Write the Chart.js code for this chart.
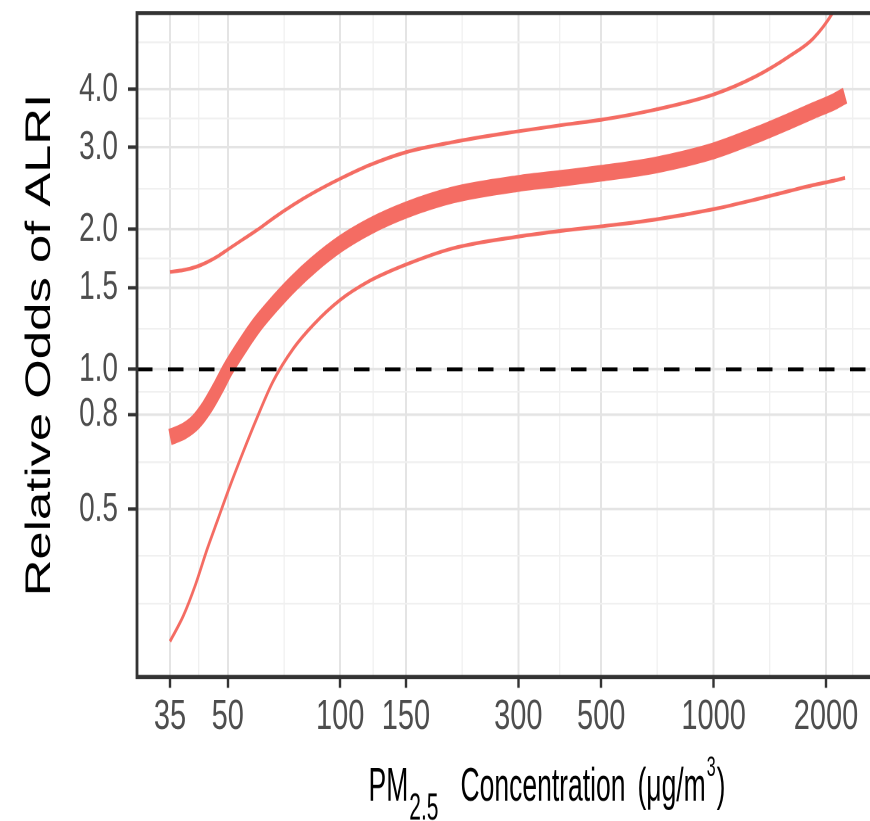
<!DOCTYPE html>
<html>
<head>
<meta charset="utf-8">
<title>Relative Odds of ALRI by PM2.5 concentration</title>
<script src="https://cdn.jsdelivr.net/npm/chart.js@4.4.1/dist/chart.umd.min.js"></script>
<style>
  html, body { margin: 0; padding: 0; background: #fff; overflow: hidden; }
  #frame { position: relative; width: 870px; height: 821px; overflow: hidden; }
  /* the reference picture is stretched vertically: draw 566px high, stretch to 821px */
  #stretch { position: absolute; left: 0; top: 0; width: 980px; height: 566px;
             transform: scaleY(1.4505); transform-origin: 0 0; }
</style>
</head>
<body>
<div id="frame"><div id="stretch"><canvas id="chart" width="980" height="566"></canvas></div></div>
<script>
// PM2.5 concentration (ug/m3) at which the curves were read
const pmConcentration = [35, 38, 41, 44, 47, 50, 55, 60, 66, 75, 85, 100, 120, 150, 200, 300, 400, 500, 700, 1000, 1300, 1600, 1850, 2100, 2250];
// relative odds of ALRI: upper CI, estimate, lower CI
const oddsUpper = [1.62, 1.635, 1.66, 1.70, 1.75, 1.81, 1.905, 1.995, 2.11, 2.26, 2.40, 2.57, 2.75, 2.93, 3.08, 3.25, 3.36, 3.44, 3.62, 3.90, 4.27, 4.72, 5.15, 5.9, 6.6];
const oddsMean = [0.715, 0.735, 0.77, 0.83, 0.91, 1.00, 1.13, 1.25, 1.37, 1.53, 1.68, 1.86, 2.03, 2.20, 2.37, 2.51, 2.58, 2.64, 2.75, 2.95, 3.19, 3.42, 3.60, 3.76, 3.88];
const oddsLower = [0.26, 0.295, 0.345, 0.41, 0.475, 0.545, 0.665, 0.79, 0.94, 1.11, 1.25, 1.41, 1.55, 1.68, 1.82, 1.93, 1.99, 2.03, 2.10, 2.21, 2.32, 2.42, 2.49, 2.545, 2.58];

// axis breaks (major ones carry a label, minor ones only a grid line)
const xMajorTicks = [35, 50, 100, 150, 300, 500, 1000, 2000];
const xMinorTicks = [41.8, 70.7, 122.5, 212.1, 387.3, 707.1, 1414.2, 2360];
const yMajorTicks = [0.5, 0.8, 1.0, 1.5, 2.0, 3.0, 4.0];
const yMinorTicks = [0.314, 0.397, 0.632, 0.894, 1.225, 1.732, 2.449, 3.464, 5.06];
const refOdds = 1.0;

// axis limits
const xMin = 28.56, xMax = 4487;
const yMin = 0.218, yMax = 5.836;

const red = '#F46C63';
const fam = '"Liberation Sans", Arial, sans-serif';

const toPoints = (ys) => pmConcentration.map((x, i) => ({ x: x, y: ys[i] }));
const tickList = (major, minor) => major.concat(minor).sort((a, b) => a - b).map((v) => ({ value: v }));
const isMajor = (c, list) => !!(c.tick && list.includes(c.tick.value));

function gridFor(major, wMajor, wMinor, tickLength) {
  return {
    color: (c) => isMajor(c, major) ? '#e4e4e4' : '#f0f0f0',
    lineWidth: (c) => isMajor(c, major) ? wMajor : wMinor,
    tickColor: (c) => isMajor(c, major) ? '#333333' : 'rgba(0,0,0,0)',
    tickWidth: 2.4,
    tickLength: tickLength
  };
}

// panel frame on top of the lines
const panelFrame = {
  id: 'panelFrame',
  afterDatasetsDraw(chart) {
    const { ctx, chartArea: a } = chart;
    ctx.save();
    ctx.strokeStyle = '#333333';
    ctx.lineWidth = 2.8;
    ctx.strokeRect(a.left, a.top, a.right - a.left, a.bottom - a.top);
    ctx.restore();
  }
};

// x title with subscript and superscript
const xAxisTitle = {
  id: 'xAxisTitle',
  afterDraw(chart) {
    const { ctx, chartArea } = chart;
    const k = 1.23;
    const baseline = chart.height - 13.8;
    // text, font size, baseline shift, space after
    const pieces = [
      ['PM', 26.5, 0, 1],
      ['2.5', 21, 13, 22],
      ['Concentration', 26.5, 0, 12],
      ['(\u03bcg/m', 26.5, 0, 1],
      ['3', 16, -17.4, 1],
      [')', 26.5, 0, 0]
    ];
    ctx.save();
    ctx.fillStyle = '#000000';
    ctx.textAlign = 'left';
    ctx.textBaseline = 'alphabetic';
    let total = 0;
    const widths = pieces.map(([t, size, , gap]) => {
      ctx.font = size + 'px ' + fam;
      const w = ctx.measureText(t).width;
      total += w + gap;
      return w;
    });
    let x = (chartArea.left + chartArea.right) / 2 - total / 2;
    pieces.forEach(([t, size, shift, gap], i) => {
      ctx.font = size + 'px ' + fam;
      ctx.save();
      ctx.translate(x, baseline + shift);
      ctx.scale(1, k);
      ctx.fillText(t, 0, 0);
      ctx.restore();
      x += widths[i] + gap;
    });
    ctx.restore();
  }
};

const ctx = document.getElementById('chart').getContext('2d');
new Chart(ctx, {
  type: 'line',
  data: {
    datasets: [
      {
        label: 'Odds = 1',
        data: [{ x: xMin, y: refOdds }, { x: xMax, y: refOdds }],
        borderColor: '#000000',
        borderWidth: 2.8,
        borderDash: [15.5, 15.5],
        pointRadius: 0,
        order: 0
      },
      {
        label: 'Upper bound',
        data: toPoints(oddsUpper),
        borderColor: red,
        borderWidth: 2.6,
        pointRadius: 0,
        cubicInterpolationMode: 'monotone',
        order: 1
      },
      {
        label: 'Relative odds',
        data: toPoints(oddsMean),
        borderColor: red,
        borderWidth: 11.5,
        pointRadius: 0,
        cubicInterpolationMode: 'monotone',
        order: 1
      },
      {
        label: 'Lower bound',
        data: toPoints(oddsLower),
        borderColor: red,
        borderWidth: 2.6,
        pointRadius: 0,
        cubicInterpolationMode: 'monotone',
        order: 1
      }
    ]
  },
  options: {
    responsive: false,
    animation: false,
    devicePixelRatio: 2,
    events: [],
    layout: { padding: { top: 9, right: 23, bottom: 0, left: 0 } },
    scales: {
      x: {
        type: 'logarithmic',
        min: xMin,
        max: xMax,
        bounds: 'data',
        afterBuildTicks: (s) => { s.ticks = tickList(xMajorTicks, xMinorTicks); },
        afterFit: (s) => { s.height = 99.3; s.paddingLeft = 0; s.paddingRight = 0; },
        grid: gridFor(xMajorTicks, 2, 1.3, 7.5),
        border: { display: false },
        ticks: {
          autoSkip: false,
          maxRotation: 0,
          minRotation: 0,
          padding: 3,
          color: '#4d4d4d',
          font: { family: fam, size: 29 },
          callback: (v) => xMajorTicks.includes(v) ? String(v) : ''
        }
      },
      y: {
        type: 'logarithmic',
        min: yMin,
        max: yMax,
        bounds: 'data',
        afterBuildTicks: (s) => { s.ticks = tickList(yMajorTicks, yMinorTicks); },
        afterFit: (s) => { s.width = 137; s.paddingTop = 0; s.paddingBottom = 0; },
        grid: gridFor(yMajorTicks, 1.8, 1.2, 9),
        border: { display: false },
        ticks: {
          autoSkip: false,
          padding: 10,
          color: '#4d4d4d',
          font: { family: fam, size: 28 },
          callback: (v) => yMajorTicks.includes(v) ? v.toFixed(1) : ''
        },
        title: {
          display: true,
          text: 'Relative Odds of ALRI',
          color: '#000000',
          font: { family: fam, size: 35 },
          padding: { top: 19.5, bottom: 0 }
        }
      }
    },
    plugins: {
      legend: { display: false },
      tooltip: { enabled: false }
    }
  },
  plugins: [panelFrame, xAxisTitle]
});
</script>
</body>
</html>
